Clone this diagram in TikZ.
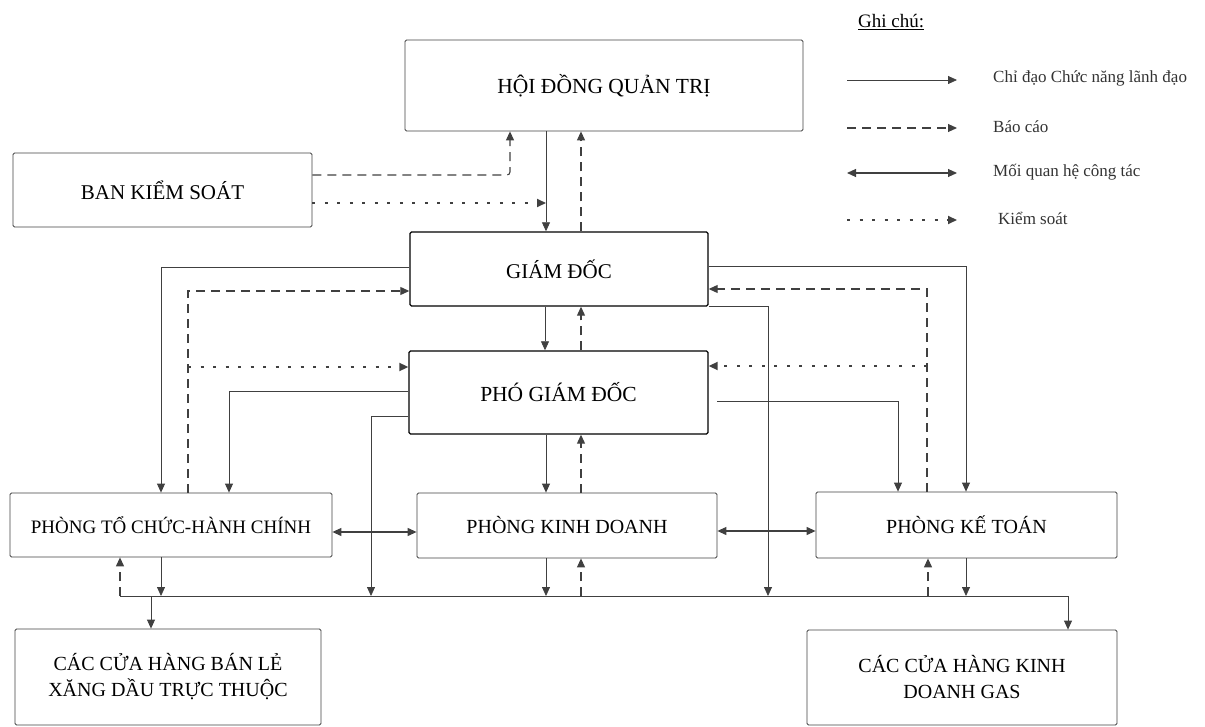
\documentclass[tikz,border=0pt]{standalone}
\usepackage{fontspec}
\setmainfont{Liberation Serif}
\usetikzlibrary{arrows.meta}
\begin{document}
\begin{tikzpicture}[x=1pt,y=-1pt,
  box/.style={draw=black!75,line width=0.8pt,rounded corners=1.5pt,inner sep=0pt,align=center,font=\fontsize{20}{26}\selectfont},
  boxb/.style={box,draw=black,line width=1.4pt},
  ln/.style={draw=black!75,line width=0.8pt},
  tip/.tip={Triangle[length=9pt,width=8pt]},
  ctrl/.style={ln,-tip},
  rep/.style={ln,line width=1.1pt,dash pattern=on 9pt off 6pt,-tip},
  ctl/.style={ln,line width=2pt,dash pattern=on 3pt off 9.5pt,-tip},
  rel/.style={ln,line width=1.1pt,tip-tip},
  lgd/.style={anchor=west,inner sep=0pt,font=\fontsize{17}{20}\selectfont,text=black!80}]
\useasboundingbox (0,0) rectangle (1205,727);
% nodes
\node[box,minimum width=398,minimum height=91] (hdqt) at (604,85.5) {\fontsize{21.5}{26}\selectfont HỘI ĐỒNG QUẢN TRỊ};
\node[box,minimum width=299,minimum height=74] (bks) at (162.5,190) {\fontsize{21}{26}\selectfont BAN KIỂM SOÁT};
\node[boxb,minimum width=298,minimum height=74] (gd) at (559,269) {\fontsize{21}{26}\selectfont GIÁM ĐỐC};
\node[boxb,minimum width=299,minimum height=83] (pgd) at (558.5,392.5) {\fontsize{21.5}{26}\selectfont PHÓ GIÁM ĐỐC};
\node[box,minimum width=322,minimum height=64] (tchc) at (171,525) {\fontsize{19}{24}\selectfont PHÒNG TỔ CHỨC-HÀNH CHÍNH};
\node[box,minimum width=300,minimum height=65] (pkd) at (567,525.5) {PHÒNG KINH DOANH};
\node[box,minimum width=301,minimum height=66] (kt) at (966.5,525) {PHÒNG KẾ TOÁN};
\node[box,minimum width=306,minimum height=96] (banle) at (168,677) {CÁC CỬA HÀNG BÁN LẺ\\XĂNG DẦU TRỰC THUỘC};
\node[box,minimum width=310,minimum height=95] (gas) at (962,677.5) {CÁC CỬA HÀNG KINH\\DOANH GAS};
% coordinates
\coordinate (busL) at (120,596);
\coordinate (busR) at (1068,596);
\coordinate (k1) at (546,203);
\coordinate (k2) at (188,367);
\coordinate (k3) at (927,366);
\coordinate (p1) at (717,401);
% HDQT - GD
\draw[ctrl] (546,0 |- hdqt.south) -- (546,0 |- gd.north);
\draw[rep] (581,0 |- gd.north) -- (581,0 |- hdqt.south);
% BKS
\draw[rep,rounded corners=3pt] (bks.east |- 0,175) -- (510,175) -- (510,0 |- hdqt.south);
\draw[ctl] (bks.east |- k1) -- (k1);
% GD - PGD
\draw[ctrl] (545,0 |- gd.south) -- (545,0 |- pgd.north);
\draw[rep] (581,0 |- pgd.north) -- (581,0 |- gd.south);
% PGD - PKD
\draw[ctrl] (546,0 |- pgd.south) -- (546,0 |- pkd.north);
\draw[rep] (581,0 |- pkd.north) -- (581,0 |- pgd.south);
% left side
\draw[ctrl] (gd.west |- 0,267) -- (161,267) -- (161,0 |- tchc.north);
\draw[rep] (188,0 |- tchc.north) -- (188,291) -- (gd.west |- 0,291);
\draw[ctl] (k2) -- (pgd.west |- k2);
\draw[ctrl] (pgd.west |- 0,391) -- (229,391) -- (229,0 |- tchc.north);
\draw[ctrl] (pgd.west |- 0,416) -- (371,416) -- (371,0 |- busL);
% right side
\draw[ctrl] (gd.south east) -- (768,0 |- gd.south east) -- (768,0 |- busL);
\draw[ctrl] (gd.east |- 0,266) -- (966,266) -- (966,0 |- kt.north);
\draw[rep] (927,0 |- kt.north) -- (927,289) -- (gd.east |- 0,289);
\draw[ctl] (k3) -- (pgd.east |- k3);
\draw[ctrl] (p1) -- (898,0 |- p1) -- (898,0 |- kt.north);
% relations
\draw[rel] (tchc.east |- 0,532) -- (pkd.west |- 0,532);
\draw[rel] (pkd.east |- 0,531) -- (kt.west |- 0,531);
% bus
\draw[ctrl] (busL) -- (busR) -- (busR |- gas.north);
\draw[ctrl] (151,0 |- busL) -- (151,0 |- banle.north);
\draw[ctrl] (161,0 |- tchc.south) -- (161,0 |- busL);
\draw[rep] (busL) -- (busL |- tchc.south);
\draw[ctrl] (546,0 |- pkd.south) -- (546,0 |- busL);
\draw[rep] (581,0 |- busL) -- (581,0 |- pkd.south);
\draw[ctrl] (966,0 |- kt.south) -- (966,0 |- busL);
\draw[rep] (928,0 |- busL) -- (928,0 |- kt.south);
% legend
\node[anchor=west,inner sep=0pt,font=\fontsize{19}{22}\selectfont] (gc) at (858,22) {\underline{Ghi chú:}};
\coordinate (a1) at (847,80);  \coordinate (b1) at (957,80);
\coordinate (a2) at (847,128); \coordinate (b2) at (957,128);
\coordinate (a3) at (847,173); \coordinate (b3) at (957,173);
\coordinate (a4) at (847,220); \coordinate (b4) at (957,220);
\draw[ctrl] (a1) -- (b1);
\draw[rep] (a2) -- (b2);
\draw[rel] (a3) -- (b3);
\draw[ctl] (a4) -- (b4);
\node[lgd] (l1) at (993,78) {Chỉ đạo Chức năng lãnh đạo};
\node[lgd] (l2) at (993,127) {Báo cáo};
\node[lgd] (l3) at (993,172) {Mối quan hệ công tác};
\node[lgd] (l4) at (998,218) {Kiểm soát};
\end{tikzpicture}
\end{document}
